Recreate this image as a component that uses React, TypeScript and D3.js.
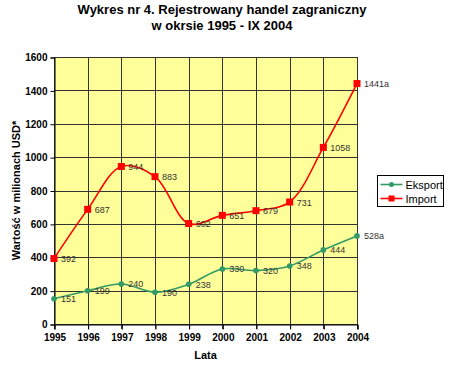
import React, { useRef, useEffect } from 'react';
import * as d3 from 'd3';

const years: number[] = [1995, 1996, 1997, 1998, 1999, 2000, 2001, 2002, 2003, 2004];
const eksport: number[] = [151, 199, 240, 190, 238, 330, 320, 348, 444, 528];
const importVals: number[] = [392, 687, 944, 883, 602, 651, 679, 731, 1058, 1441];
const eksportLabels: string[] = ['151', '199', '240', '190', '238', '330', '320', '348', '444', '528a'];
const importLabels: string[] = ['392', '687', '944', '883', '602', '651', '679', '731', '1058', '1441a'];
const yTicks: number[] = [0, 200, 400, 600, 800, 1000, 1200, 1400, 1600];

const App: React.FC = () => {
  const svgRef = useRef<SVGSVGElement | null>(null);

  useEffect(() => {
    if (!svgRef.current) return;
    const svg = d3.select(svgRef.current);
    svg.selectAll('*').remove();

    const width = 450;
    const height = 367;
    const margin = { top: 57, right: 93, bottom: 43, left: 54 };
    const font = 'Arial, "Liberation Sans", sans-serif';

    const x = d3.scaleLinear()
      .domain([1995, 2004])
      .range([margin.left, width - margin.right]);
    const y = d3.scaleLinear()
      .domain([0, 1600])
      .range([height - margin.bottom, margin.top]);

    svg.append('rect').attr('width', width).attr('height', height).attr('fill', '#fff');

    // Plot area
    svg.append('rect')
      .attr('x', margin.left)
      .attr('y', margin.top)
      .attr('width', width - margin.right - margin.left)
      .attr('height', height - margin.bottom - margin.top)
      .attr('fill', '#FFFF99');

    // Grid
    const grid = svg.append('g').attr('stroke', '#333').attr('stroke-width', 1);
    yTicks.forEach(t => {
      grid.append('line')
        .attr('x1', margin.left).attr('x2', width - margin.right)
        .attr('y1', Math.round(y(t)) + 0.5).attr('y2', Math.round(y(t)) + 0.5);
    });
    years.forEach(t => {
      grid.append('line')
        .attr('x1', Math.round(x(t)) + 0.5).attr('x2', Math.round(x(t)) + 0.5)
        .attr('y1', margin.top).attr('y2', height - margin.bottom + 5);
    });

    // Axes
    const yAxis = svg.append('g')
      .attr('transform', `translate(${margin.left + 0.5},0.5)`)
      .call(d3.axisLeft(y).tickValues(yTicks).tickSize(4).tickPadding(3).tickFormat(d3.format('d')));
    yAxis.select('.domain').attr('stroke', '#000');
    yAxis.selectAll('line').attr('stroke', '#000');
    yAxis.selectAll('text').attr('font-family', font).attr('font-size', 10).attr('font-weight', 'bold').attr('fill', '#000');

    const xAxis = svg.append('g')
      .attr('transform', `translate(0.5,${height - margin.bottom + 0.5})`)
      .call(d3.axisBottom(x).tickValues(years).tickSize(5).tickPadding(4).tickFormat(d3.format('d')));
    xAxis.select('.domain').attr('stroke', '#000');
    xAxis.selectAll('line').attr('stroke', '#000');
    xAxis.selectAll('text').attr('font-family', font).attr('font-size', 10).attr('font-weight', 'bold').attr('fill', '#000');

    // Lines
    const line = d3.line<number>()
      .x((_, i) => x(years[i]))
      .y(d => y(d))
      .curve(d3.curveCatmullRom.alpha(0.5));

    svg.append('path').datum(eksport)
      .attr('d', line).attr('fill', 'none').attr('stroke', '#339966').attr('stroke-width', 1.6);
    svg.append('path').datum(importVals)
      .attr('d', line).attr('fill', 'none').attr('stroke', '#FF0000').attr('stroke-width', 1.6);

    svg.append('g').selectAll('circle').data(eksport).enter().append('circle')
      .attr('cx', (_, i) => x(years[i])).attr('cy', d => y(d)).attr('r', 2.8).attr('fill', '#339966');
    svg.append('g').selectAll('rect').data(importVals).enter().append('rect')
      .attr('x', (_, i) => x(years[i]) - 3.5).attr('y', d => y(d) - 3.5)
      .attr('width', 7).attr('height', 7).attr('fill', '#FF0000');

    // Data labels
    const labels = svg.append('g').attr('font-family', font).attr('font-size', 9).attr('fill', '#333');
    eksport.forEach((v, i) => {
      labels.append('text').attr('x', x(years[i]) + 7).attr('y', y(v) + 3.5).text(eksportLabels[i]);
    });
    importVals.forEach((v, i) => {
      labels.append('text').attr('x', x(years[i]) + 7).attr('y', y(v) + 3.5).text(importLabels[i]);
    });

    // Titles
    const title = svg.append('text').attr('font-family', font).attr('font-size', 13)
      .attr('font-weight', 'bold').attr('text-anchor', 'middle').attr('fill', '#000');
    title.append('tspan').attr('x', 222).attr('y', 14).text('Wykres nr 4. Rejestrowany handel zagraniczny');
    title.append('tspan').attr('x', 222).attr('y', 30).text('w okrsie 1995 - IX 2004');

    svg.append('text')
      .attr('transform', `translate(20,${(margin.top + height - margin.bottom) / 2}) rotate(-90)`)
      .attr('text-anchor', 'middle').attr('font-family', font).attr('font-size', 11)
      .attr('font-weight', 'bold').text('Wartość w milionach USD*');

    svg.append('text')
      .attr('x', (margin.left + width - margin.right) / 2).attr('y', 359)
      .attr('text-anchor', 'middle').attr('font-family', font).attr('font-size', 11)
      .attr('font-weight', 'bold').text('Lata');

    // Legend
    const lg = svg.append('g').attr('transform', 'translate(377.5,175.5)');
    lg.append('rect').attr('width', 66).attr('height', 31).attr('fill', '#fff').attr('stroke', '#000');
    const items = [
      { name: 'Eksport', color: '#339966', shape: 'circle' },
      { name: 'Import', color: '#FF0000', shape: 'square' },
    ];
    items.forEach((it, i) => {
      const cy = 9 + i * 14;
      lg.append('line').attr('x1', 3).attr('x2', 25).attr('y1', cy).attr('y2', cy)
        .attr('stroke', it.color).attr('stroke-width', 1.6);
      if (it.shape === 'circle') {
        lg.append('circle').attr('cx', 14).attr('cy', cy).attr('r', 2.5).attr('fill', it.color);
      } else {
        lg.append('rect').attr('x', 11).attr('y', cy - 3).attr('width', 6).attr('height', 6).attr('fill', it.color);
      }
      lg.append('text').attr('x', 28).attr('y', cy + 4).attr('font-family', font)
        .attr('font-size', 11).attr('fill', '#000').text(it.name);
    });
  }, []);

  return <svg ref={svgRef} width={450} height={367} style={{ position: 'absolute', left: 0, top: 0 }} />;
};

export default App;
